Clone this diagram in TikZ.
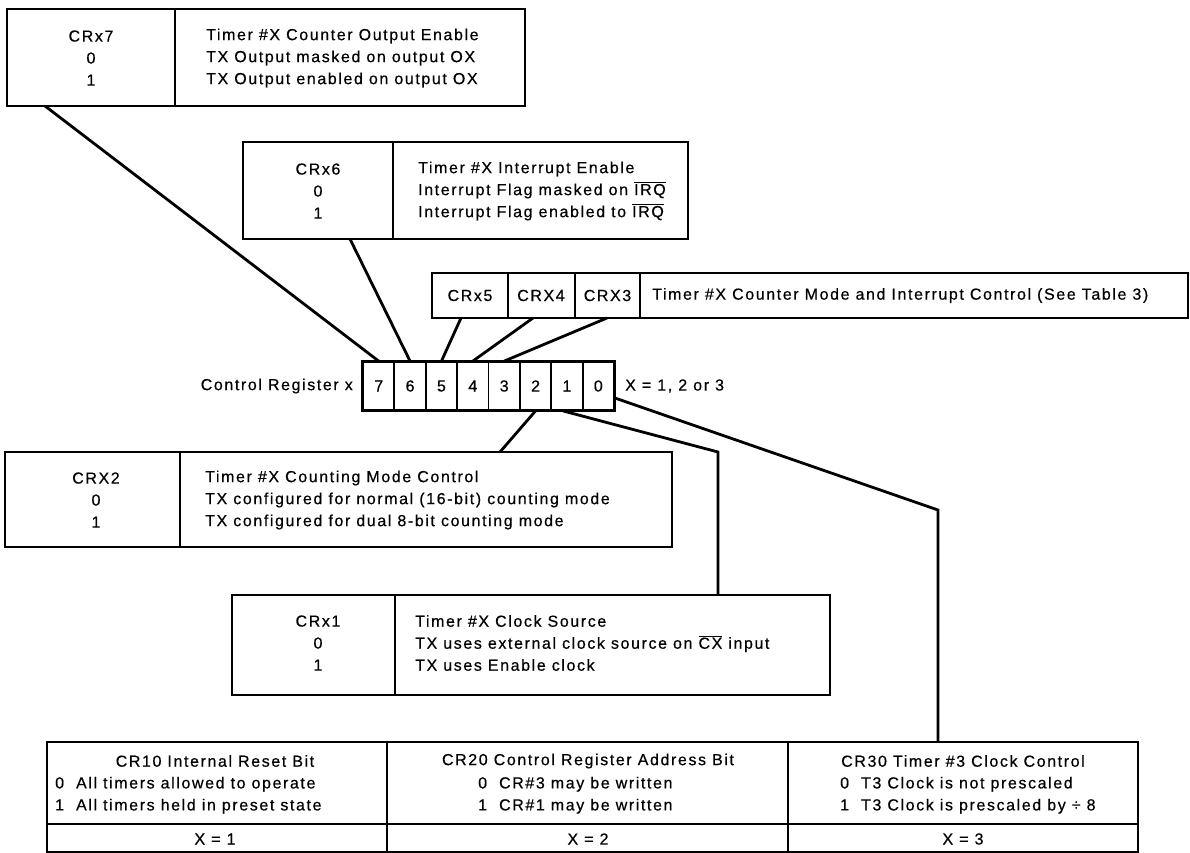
\documentclass[tikz,border=0pt]{standalone}
\usepackage{fontspec}
\setmainfont{Liberation Sans}[LetterSpace=10, FakeBold=0.5]
\usetikzlibrary{calc}
\newcommand{\fs}{\fontsize{16}{22}\selectfont}
\newcommand{\ovl}[1]{$\overline{\mbox{#1}}$}
\tikzset{
  frame/.style={draw, line width=2.2pt, inner sep=0pt},
  divider/.style={line width=1.8pt},
  conn/.style={line width=2.8pt, line join=miter},
  txt/.style={inner sep=0pt, font=\fs},
  keycol/.style={txt, align=center},
  desc/.style={txt, align=left, anchor=west},
  cell/.style={draw, line width=1.8pt, inner sep=0pt, minimum width=31.375, minimum height=48, font=\fs},
}
\begin{document}
\begin{tikzpicture}[x=1pt,y=-1pt]
\useasboundingbox (0,0) rectangle (1190,853);

% CRx7 box
\node[frame, minimum width=518, minimum height=97] (bx7) at (266,57.5) {};
\draw[divider] (175,9) -- (175,106);
\node[keycol] (k7) at (91,58) {CRx7\\0\\1};
\node[desc] (t7) at (206,58) {Timer \#X Counter Output Enable\\TX Output masked on output OX\\TX Output enabled on output OX};

% CRx6 box
\node[frame, minimum width=445, minimum height=97] (bx6) at (465.5,190.5) {};
\draw[divider] (393,142) -- (393,239);
\node[keycol] (k6) at (318,191) {CRx6\\0\\1};
\node[desc] (t6) at (418,191) {Timer \#X Interrupt Enable\\Interrupt Flag masked on \ovl{IRQ}\\Interrupt Flag enabled to \ovl{IRQ}};

% CRx5..3 row
\node[frame, minimum width=756, minimum height=45] (bx5) at (810,295.5) {};
\draw[divider] (508,273) -- (508,318);
\draw[divider] (575,273) -- (575,318);
\draw[divider] (640,273) -- (640,318);
\node[txt] (k5) at (470,295.5) {CRx5};
\node[txt] (k4) at (541,295.5) {CRX4};
\node[txt] (k3) at (607.5,295.5) {CRX3};
\node[desc] (t5) at (652,295.5) {Timer \#X Counter Mode and Interrupt Control (See Table 3)};

% register
\foreach \b [count=\j from 0] in {7,6,5,4,3,2,1,0}
  \node[cell] (r\b) at ({363+31.375*\j+15.69},386) {\b};
\draw[line width=2.2pt] (r7.north west) rectangle (r0.south east);
\node[txt, anchor=east] (reglbl) at (353,386) {Control Register x};
\node[txt, anchor=west] (xlbl) at (625,386) {X = 1, 2 or 3};

% CRX2 box
\node[frame, minimum width=667, minimum height=95] (bx2) at (338.5,499.5) {};
\draw[divider] (180,452) -- (180,547);
\node[keycol] (k2) at (96,500) {CRX2\\0\\1};
\node[desc] (t2) at (205,500) {Timer \#X Counting Mode Control\\TX configured for normal (16-bit) counting mode\\TX configured for dual 8-bit counting mode};

% CRx1 box
\node[frame, minimum width=598, minimum height=100] (bx1) at (531,645) {};
\draw[divider] (395,595) -- (395,695);
\node[keycol] (k1) at (318,643) {CRx1\\0\\1};
\node[desc] (t1) at (415,643) {Timer \#X Clock Source\\TX uses external clock source on \ovl{CX} input\\TX uses Enable clock};

% bottom table
\node[frame, minimum width=1091, minimum height=110] (tab) at (592.5,797) {};
\draw[divider] (47,824) -- (1138,824);
\draw[divider] (387,742) -- (387,852);
\draw[divider] (788,742) -- (788,852);
\node[txt] (h1) at (215,761) {CR10 Internal Reset Bit};
\node[txt] (h2) at (588,761) {CR20 Control Register Address Bit};
\node[txt] (h3) at (963,761) {CR30 Timer \#3 Clock Control};
\node[txt, anchor=west] (v1) at (55,795) {\begin{tabular}{@{}l@{\hspace{12pt}}l@{}}0 & All timers allowed to operate\\1 & All timers held in preset state\end{tabular}};
\node[txt, anchor=west] (v2) at (478,795) {\begin{tabular}{@{}l@{\hspace{12pt}}l@{}}0 & CR\#3 may be written\\1 & CR\#1 may be written\end{tabular}};
\node[txt, anchor=west] (v3) at (840,795) {\begin{tabular}{@{}l@{\hspace{12pt}}l@{}}0 & T3 Clock is not prescaled\\1 & T3 Clock is prescaled by ÷ 8\end{tabular}};
\node[txt] (x1) at (215,839) {X = 1};
\node[txt] (x2) at (588,839) {X = 2};
\node[txt] (x3) at (963,839) {X = 3};

% connector anchor points
\coordinate (c7) at (45,106);
\coordinate (c6) at (350,239);
\coordinate (c5) at (461,318);
\coordinate (c4) at (533,318);
\coordinate (c3) at (607,318);
\coordinate (c2) at (500,452);
\coordinate (c1a) at ($(r1.south)+(-4,0)$);
\coordinate (c1b) at (718,452);
\coordinate (c1) at (718,595);
\coordinate (c0a) at ($(r0.east)+(0,12)$);
\coordinate (c0b) at (938,510);
\coordinate (c0) at (938,742);

\draw[conn] (c7) -- (r7.north);
\draw[conn] (c6) -- (r6.north);
\draw[conn] (c5) -- (r5.north);
\draw[conn] (c4) -- (r4.north);
\draw[conn] (c3) -- (r3.north);
\draw[conn] (r2.south) -- (c2);
\draw[conn] (c1a) -- (c1b) -- (c1);
\draw[conn] (c0a) -- (c0b) -- (c0);
\end{tikzpicture}
\end{document}
